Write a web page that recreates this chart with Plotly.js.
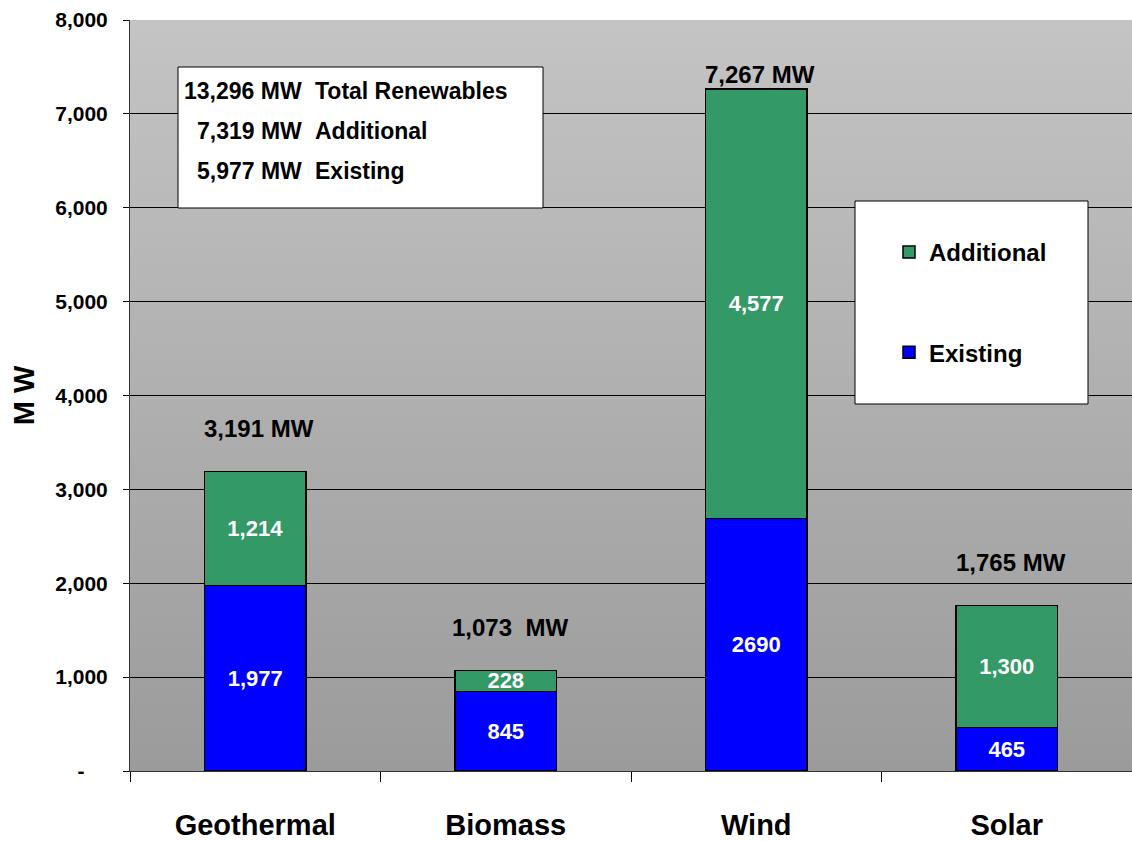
<!DOCTYPE html>
<html>
<head>
<meta charset="utf-8">
<script src="https://cdn.plot.ly/plotly-3.0.1.min.js"></script>
<style>
html,body{margin:0;padding:0;background:#fff;}
#chart{width:1132px;height:842px;}
</style>
</head>
<body>
<div id="chart"></div>
<script>
// ---- data ----
const categories = ['Geothermal', 'Biomass', 'Wind', 'Solar'];
const existing = [1977, 845, 2690, 465];
const additional = [1214, 228, 4577, 1300];
const existingLabels = ['1,977', '845', '2690', '465'];
const additionalLabels = ['1,214', '228', '4,577', '1,300'];
const totalLabels = ['3,191 MW', '1,073\u00a0\u00a0MW', '7,267 MW', '1,765 MW'];
const yTickVals = [0, 1000, 2000, 3000, 4000, 5000, 6000, 7000, 8000];
const yTickText = ['-\u00a0\u00a0\u00a0\u00a0', '1,000', '2,000', '3,000', '4,000', '5,000', '6,000', '7,000', '8,000'];
const summaryNumbers = ['13,296 MW', '7,319 MW', '5,977 MW'];
const summaryNames = ['Total Renewables', 'Additional', 'Existing'];

// ---- style ----
const FONT = "'Liberation Sans', Arial, sans-serif";
const GREEN = '#339966';
const BLUE = '#0000ff';

// plot area in pixels (for placing boxes)
const M = {l: 130, r: 0, t: 20, b: 71};
const W = 1132, H = 842;
const PW = W - M.l - M.r, PH = H - M.t - M.b;
const px = x => (x - M.l) / PW;
const py = y => (H - M.b - y) / PH;

const totals = existing.map((v, i) => v + additional[i]);

const traceExisting = {
  type: 'bar', name: 'Existing', x: categories, y: existing,
  text: existingLabels, textposition: 'inside', insidetextanchor: 'middle',
  textangle: 0, constraintext: 'none',
  textfont: {color: '#fff', size: 22, family: FONT, weight: 'bold'},
  marker: {color: BLUE, line: {color: '#000', width: 1.5}},
  width: 0.405, legendgroup: 'e', legendrank: 2, hoverinfo: 'none'
};
const traceAdditional = {
  type: 'bar', name: 'Additional', x: categories, y: additional,
  text: additionalLabels, textposition: 'inside', insidetextanchor: 'middle',
  textangle: 0, constraintext: 'none',
  textfont: {color: '#fff', size: 22, family: FONT, weight: 'bold'},
  marker: {color: GREEN, line: {color: '#000', width: 1.5}},
  width: 0.405, legendgroup: 'a', legendrank: 1, hoverinfo: 'none'
};

// total labels above bars
const annotations = categories.map((c, i) => ({
  x: c, y: Math.min(totals[i] + 458, 7416), xref: 'x', yref: 'y',
  text: totalLabels[i], showarrow: false, xshift: 4,
  font: {size: 24, color: '#000', family: FONT, weight: 'bold'},
  xanchor: 'center', yanchor: 'middle'
}));

// summary text box
const lineY = [91, 131, 171];
summaryNumbers.forEach((t, i) => {
  annotations.push({
    xref: 'paper', yref: 'paper', x: px(304), y: py(lineY[i]),
    text: t, showarrow: false, xanchor: 'right', yanchor: 'middle',
    font: {size: 23, color: '#000', family: FONT, weight: 'bold'}
  });
  annotations.push({
    xref: 'paper', yref: 'paper', x: px(313), y: py(lineY[i]),
    text: summaryNames[i], showarrow: false, xanchor: 'left', yanchor: 'middle',
    font: {size: 23, color: '#000', family: FONT, weight: 'bold'}
  });
});

const shapes = [
  {type: 'rect', xref: 'paper', yref: 'paper', x0: px(178), x1: px(543), y0: py(67), y1: py(208),
   fillcolor: '#fff', line: {color: '#000', width: 1}, layer: 'above'},
  {type: 'rect', xref: 'paper', yref: 'paper', x0: px(855), x1: px(1088), y0: py(201), y1: py(404),
   fillcolor: '#fff', line: {color: '#000', width: 1}, layer: 'above'}
];

const gradSvg = "<svg xmlns='http://www.w3.org/2000/svg' width='100' height='100' preserveAspectRatio='none'>" +
  "<defs><linearGradient id='g' x1='0' y1='0' x2='0' y2='1'>" +
  "<stop offset='0' stop-color='#c4c4c4'/><stop offset='1' stop-color='#9b9b9b'/>" +
  "</linearGradient></defs><rect width='100' height='100' fill='url(#g)'/></svg>";

const layout = {
  width: W, height: H,
  margin: M,
  paper_bgcolor: '#fff', plot_bgcolor: 'rgba(0,0,0,0)',
  font: {family: FONT, color: '#000', weight: 'bold'},
  barmode: 'stack',
  showlegend: true,
  legend: {
    x: px(889), y: py(230), xanchor: 'left', yanchor: 'top',
    bgcolor: 'rgba(0,0,0,0)', borderwidth: 0,
    traceorder: 'grouped', tracegroupgap: 66,
    font: {size: 24, family: FONT, color: '#000', weight: 'bold'}
  },
  xaxis: {
    type: 'category', range: [-0.5, 3.5],
    showline: true, linecolor: '#333', linewidth: 1,
    ticks: 'outside', tickson: 'boundaries', ticklen: 10, tickcolor: '#000', tickwidth: 1,
    showgrid: false, zeroline: false,
    tickfont: {size: 29, family: FONT, weight: 'bold'},
    ticklabelstandoff: 28, automargin: false
  },
  yaxis: {
    range: [0, 8000], tickvals: yTickVals, ticktext: yTickText, tickmode: 'array',
    showline: true, linecolor: '#333', linewidth: 1,
    ticks: 'outside', ticklen: 6, tickcolor: '#000', tickwidth: 1,
    showgrid: true, gridcolor: '#000', gridwidth: 1, zeroline: false,
    tickfont: {size: 21, family: FONT, weight: 'bold'},
    ticklabelstandoff: 11, automargin: false,
    title: {text: 'M W', font: {size: 29, family: FONT, weight: 'bold'}, standoff: 12}
  },
  images: [{
    source: 'data:image/svg+xml;charset=utf-8,' + encodeURIComponent(gradSvg),
    xref: 'x domain', yref: 'y domain', x: 0, y: 1, sizex: 1, sizey: 1,
    xanchor: 'left', yanchor: 'top', sizing: 'stretch', layer: 'below'
  }],
  shapes: shapes,
  annotations: annotations
};

Plotly.newPlot('chart', [traceExisting, traceAdditional], layout, {staticPlot: true});
</script>
</body>
</html>
